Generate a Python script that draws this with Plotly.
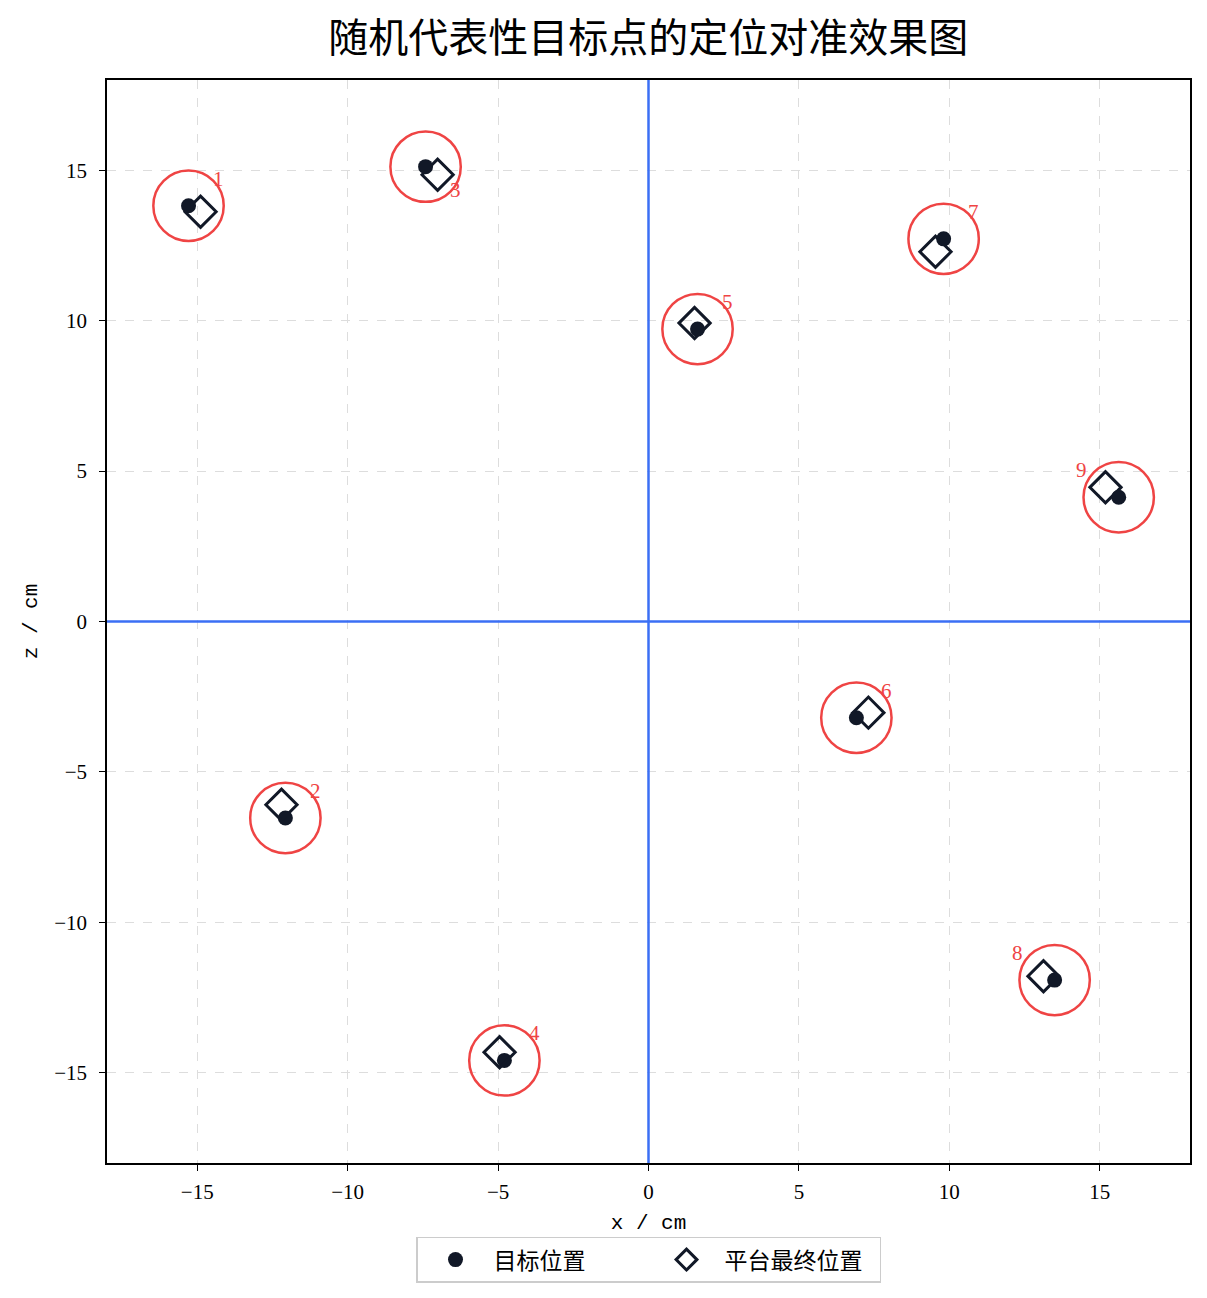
import plotly.graph_objects as go

labels = ["1", "2", "3", "4", "5", "6", "7", "8", "9"]
target_x = [-15.29, -12.07, -7.41, -4.79, 1.63, 6.91, 9.81, 13.50, 15.63]
target_z = [13.82, -6.53, 15.12, -14.59, 9.72, -3.20, 12.72, -11.92, 4.13]
final_x = [-14.89, -12.20, -7.01, -4.95, 1.53, 7.31, 9.54, 13.13, 15.19]
final_z = [13.62, -6.09, 14.85, -14.32, 9.92, -3.03, 12.29, -11.79, 4.46]
tol_radius = 1.17
tick_vals = [-15, -10, -5, 0, 5, 10, 15]
tick_text = ["\u221215", "\u221210", "\u22125", "0", "5", "10", "15"]

# label offsets (layout only)
lab_dx = [1.0, 1.0, 1.0, 1.0, 1.0, 1.0, 1.0, -1.25, -1.25]
lab_dy = [0.9, 0.9, -0.77, 0.9, 0.9, 0.9, 0.9, 0.9, 0.9]

RED = "#ef4444"
DARK = "#111827"
BLUE = "#3b6ff5"
FONT = "Liberation Serif, Noto Sans CJK SC"
MONO = "Liberation Mono, DejaVu Sans Mono"

fig = go.Figure()

shapes = []
shapes.append(dict(type="line", xref="x", yref="paper", x0=0, x1=0, y0=0, y1=1,
                   line=dict(color=BLUE, width=2.5), layer="above"))
shapes.append(dict(type="line", xref="paper", yref="y", x0=0, x1=1, y0=0, y1=0,
                   line=dict(color=BLUE, width=2.5), layer="above"))
for x, z in zip(target_x, target_z):
    shapes.append(dict(type="circle", xref="x", yref="y",
                       x0=x - tol_radius, x1=x + tol_radius,
                       y0=z - tol_radius, y1=z + tol_radius,
                       line=dict(color=RED, width=2.5), layer="above"))

fig.add_trace(go.Scatter(x=target_x, y=target_z, mode="markers", name="目标位置",
                         marker=dict(symbol="circle", size=15, color=DARK)))
fig.add_trace(go.Scatter(x=final_x, y=final_z, mode="markers", name="平台最终位置",
                         marker=dict(symbol="diamond-open", size=24, color=DARK,
                                     line=dict(width=3, color=DARK))))

annotations = []
for lab, x, z, dx, dy in zip(labels, target_x, target_z, lab_dx, lab_dy):
    annotations.append(dict(x=x + dx, y=z + dy, xref="x", yref="y", text=lab,
                            showarrow=False, font=dict(color=RED, size=21, family=FONT)))

axis_common = dict(range=[-18, 18], tickvals=tick_vals, ticktext=tick_text,
                   showgrid=True, gridcolor="#dddddd", griddash="dash", gridwidth=1,
                   zeroline=False, showline=True, linecolor="black", linewidth=1.5,
                   mirror=True, ticks="outside", ticklen=6, tickcolor="black",
                   tickfont=dict(size=21, family=FONT, color="black"))

fig.update_layout(
    width=1207, height=1298,
    margin=dict(l=107, r=17, t=80, b=135),
    paper_bgcolor="white", plot_bgcolor="white",
    title=dict(text="随机代表性目标点的定位对准效果图", x=0.537, xanchor="center",
               y=0.971, yanchor="middle",
               font=dict(size=40, family="Noto Sans CJK SC", color="black")),
    xaxis=dict(**axis_common, ticklabelstandoff=3,
               title=dict(text="x / cm", standoff=11,
                          font=dict(size=21, family=MONO, color="black"))),
    yaxis=dict(**axis_common, ticklabelstandoff=8,
               title=dict(text="z / cm", standoff=11,
                          font=dict(size=21, family=MONO, color="black"))),
    shapes=shapes,
    annotations=annotations,
    showlegend=True,
    legend=dict(orientation="h", x=0.5, xanchor="center", y=-0.068, yanchor="top",
                bordercolor="#cccccc", borderwidth=1.5, bgcolor="white",
                font=dict(size=23, family="Noto Sans CJK SC", color="black"),
                itemwidth=66, entrywidth=150, tracegroupgap=0),
)

fig.write_html("out.html")
